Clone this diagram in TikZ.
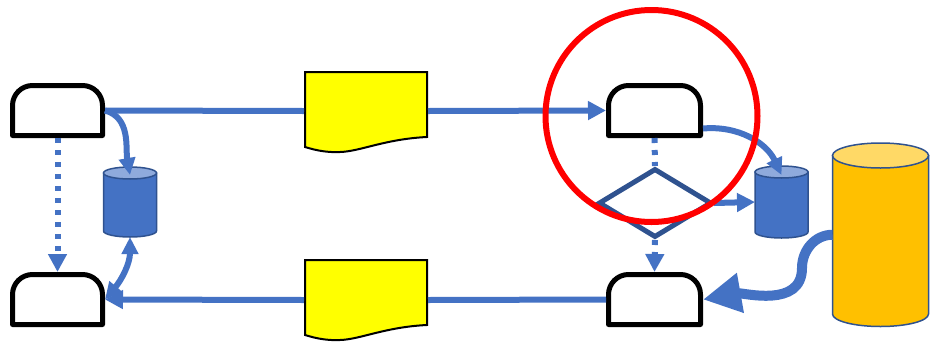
\documentclass[tikz,border=0pt]{standalone}
\usetikzlibrary{arrows.meta,shapes.geometric}
\definecolor{cblue}{HTML}{4472C4}
\definecolor{cdark}{HTML}{2F528F}
\definecolor{ctop}{HTML}{8FAADC}
\definecolor{cgold}{HTML}{FFC000}
\definecolor{cgoldtop}{HTML}{FFD966}
\definecolor{cyellow}{HTML}{FFFF00}
\definecolor{cred}{HTML}{FF0000}
\tikzset{
  anchorbox/.style={rectangle, draw=none, inner sep=0pt, outer sep=0pt},
  displine/.style={draw=black, line width=5pt, fill=white, line join=round},
  docline/.style={draw=black, line width=2pt, fill=cyellow},
  cylline/.style={draw=cdark, line width=1.5pt},
  conn/.style={draw=cblue, line width=6pt},
  tip/.style={-{Triangle[length=18pt,width=18pt]}},
  dotconn/.style={draw=cblue, line width=6pt, dash pattern=on 5pt off 7pt},
  bigconn/.style={draw=cblue, line width=10pt, -{Triangle[length=38pt,width=38pt]}},
  focusring/.style={circle, draw=cred, line width=6pt, inner sep=0pt},
}
\newcommand\dispshape[5]{%
  \draw[displine] ({#2-#4/2},{#3+#5/2}) -- ({#2-#4/2},{#3-#5/2+20})
    arc[start angle=180,end angle=90,radius=20pt] -- ({#2+#4/2-20},{#3-#5/2})
    arc[start angle=90,end angle=0,radius=20pt] -- ({#2+#4/2},{#3+#5/2}) -- cycle;
  \node[anchorbox, minimum width=#4pt+5pt, minimum height=#5pt+5pt] (#1) at (#2,#3) {};
}
\newcommand\cylshape[8]{%
  \draw[cylline, fill=#7] ({#2-#5},#3) -- ({#2-#5},#4)
    arc[start angle=180,end angle=360,x radius=#5pt,y radius=#6pt] -- ({#2+#5},#3) -- cycle;
  \draw[cylline, fill=#8] (#2,#3) ellipse[x radius=#5pt, y radius=#6pt];
  \node[anchorbox, minimum width=2*#5pt, minimum height={(#4-#3+2*#6)*1pt}] (#1) at (#2,{(#3+#4)/2}) {};
}
\newcommand\docshape[3]{%
  \draw[docline] (305,#2) -- (427,#2) -- (427,{#2+65})
    .. controls (385,{#2+67}) and (360,{#2+79.5}) .. (340,{#2+80})
    .. controls (328,{#2+80.5}) and (318,{#2+79}) .. (305,{#2+75}) -- cycle;
  \node[anchorbox, minimum width=124pt, minimum height={2*(#3-#2+1)*1pt}] (#1) at (366,#3) {};
}
\begin{document}
\begin{tikzpicture}[x=1pt,y=-1pt]
\useasboundingbox (0,0) rectangle (930,341);
% shapes
\dispshape{d1}{57.5}{110.5}{90}{50}
\dispshape{d2}{57.5}{299.5}{90}{50}
\dispshape{d3}{654.5}{110.5}{92}{50}
\dispshape{d4}{654.5}{299.5}{92}{50}
\docshape{doc1}{72}{111}
\docshape{doc2}{260}{300}
\cylshape{lc}{130}{173}{231}{26.5}{6}{cblue}{ctop}
\cylshape{rc}{781.5}{172}{232}{26.5}{6}{cblue}{ctop}
\cylshape{bc}{880.5}{155.5}{314}{48}{12.5}{cgold}{cgoldtop}
\node[diamond, draw=cdark, line width=5pt, minimum width=113pt, minimum height=69pt, inner sep=0pt] (dm) at (655,203) {};
% connectors
\draw[conn] (d1.east) -- (doc1.west);
\draw[conn, tip] (doc1.east) -- (d3.west);
\draw[conn, -{Triangle[length=17pt,width=16pt]}] (d1.east) to[out=-15, in=100] ([yshift=-8pt]lc.north);
\draw[conn, {Triangle[length=17pt,width=16pt]}-{Triangle[length=17pt,width=16pt]}] (d2.east) to[out=50,in=-90] (lc.south);
\draw[dotconn, tip] (d1.south) -- (d2.north);
\draw[dotconn] (d3.south) -- (dm.north);
\draw[dotconn, tip] (dm.south) -- (d4.north);
\draw[conn, tip] (dm.east) -- (rc.west);
\draw[conn, -{Triangle[length=17pt,width=16pt]}] ([yshift=-18pt]d3.east) to[out=5,in=115] ([yshift=-9pt]rc.north);
\draw[conn] (d4.west) -- (doc2.east);
\draw[conn, tip] (doc2.west) -- (d2.east);
\coordinate (bend) at (802,268);
\draw[bigconn] (bc.west) to[out=180,in=90] (bend) to[out=-90,in=10] (d4.east);
% highlight ring
\node[focusring, minimum size=212pt] (focus) at (651.5,116) {};
\end{tikzpicture}
\end{document}
